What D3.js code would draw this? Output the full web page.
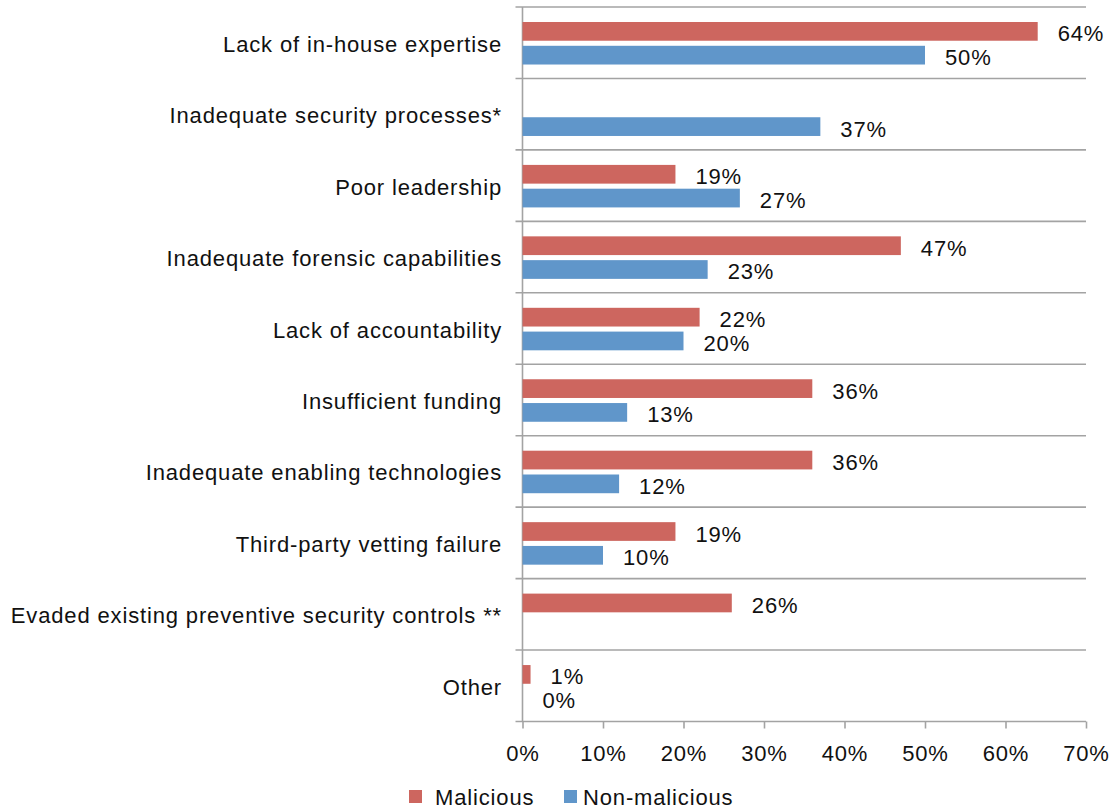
<!DOCTYPE html>
<html>
<head>
<meta charset="utf-8">
<script src="https://cdn.jsdelivr.net/npm/d3@7"></script>
<style>
  html, body { margin: 0; padding: 0; background: #ffffff; }
  svg text { font-family: Arial, "Liberation Sans", sans-serif; fill: #111; letter-spacing: 0.85px; }
</style>
</head>
<body>
<svg id="chart" width="1110" height="810"></svg>
<script>
// Reasons cited for insider incidents, by type (percent of respondents)
const categories = [
  "Lack of in-house expertise",
  "Inadequate security processes*",
  "Poor leadership",
  "Inadequate forensic capabilities",
  "Lack of accountability",
  "Insufficient funding",
  "Inadequate enabling technologies",
  "Third-party vetting failure",
  "Evaded existing preventive security controls **",
  "Other"
];
const seriesNames = ["Malicious", "Non-malicious"];
const malicious    = [64, null, 19, 47, 22, 36, 36, 19, 26, 1];
const nonMalicious = [50, 37, 27, 23, 20, 13, 12, 10, null, 0];
const xTicks = [0, 10, 20, 30, 40, 50, 60, 70];

const colors = { "Malicious": "#CD665F", "Non-malicious": "#6096CA" };
const gridColor = "#A3A3A3";

const svg = d3.select("#chart");

const plot = { left: 522.5, right: 1086, top: 7, bottom: 721.5 };

const x = d3.scaleLinear().domain([0, 70]).range([plot.left, plot.right]);
const y = d3.scaleBand().domain(categories).range([plot.top, plot.bottom]).padding(0);
const rowH = y.bandwidth();
const ySeries = d3.scaleBand().domain(seriesNames)
  .range([rowH * 0.21, rowH * 0.805])
  .paddingInner(0.213).paddingOuter(0);

// horizontal row separators (with small left ticks)
const boundaries = categories.map(c => y(c)).concat([plot.bottom]);
svg.append("g").selectAll("line")
  .data(boundaries)
  .join("line")
  .attr("x1", plot.left - 7)
  .attr("x2", plot.right)
  .attr("y1", d => d)
  .attr("y2", d => d)
  .attr("stroke", gridColor)
  .attr("stroke-width", 1.6);

// vertical axis line
svg.append("line")
  .attr("x1", plot.left).attr("x2", plot.left)
  .attr("y1", plot.top).attr("y2", plot.bottom)
  .attr("stroke", gridColor).attr("stroke-width", 1.6);

// bottom axis
const xAxis = d3.axisBottom(x)
  .tickValues(xTicks)
  .tickSize(7)
  .tickPadding(16)
  .tickFormat(d => d + "%");
const gx = svg.append("g")
  .attr("transform", `translate(0,${plot.bottom})`)
  .call(xAxis);
gx.select(".domain").remove();
gx.selectAll(".tick line").attr("stroke", gridColor).attr("stroke-width", 1.6);
gx.selectAll(".tick text")
  .attr("font-size", 22)
  .attr("font-family", "Arial, 'Liberation Sans', sans-serif")
  .attr("fill", "#111")
  .attr("dy", null)
  .attr("y", 39.5);

// category labels
svg.append("g").selectAll("text")
  .data(categories)
  .join("text")
  .attr("x", 502)
  .attr("y", d => y(d) + rowH / 2 + 9)
  .attr("text-anchor", "end")
  .attr("font-size", 22)
  .text(d => d);

// bars
const rows = categories.map((c, i) => ({
  category: c,
  values: [
    { series: "Malicious", value: malicious[i] },
    { series: "Non-malicious", value: nonMalicious[i] }
  ].filter(v => v.value !== null)
}));

const groups = svg.append("g").selectAll("g")
  .data(rows)
  .join("g")
  .attr("transform", d => `translate(0,${y(d.category)})`);

groups.selectAll("rect")
  .data(d => d.values)
  .join("rect")
  .attr("x", x(0))
  .attr("y", d => ySeries(d.series))
  .attr("width", d => x(d.value) - x(0))
  .attr("height", ySeries.bandwidth())
  .attr("fill", d => colors[d.series]);

groups.selectAll("text")
  .data(d => d.values)
  .join("text")
  .attr("x", d => x(d.value) + 20)
  .attr("y", d => ySeries(d.series) + ySeries.bandwidth() / 2 + 10)
  .attr("font-size", 22)
  .text(d => d.value + "%");

// legend
const legendItems = [
  { name: "Malicious", sx: 409, tx: 435 },
  { name: "Non-malicious", sx: 564, tx: 583 }
];
const lg = svg.append("g");
lg.selectAll("rect")
  .data(legendItems)
  .join("rect")
  .attr("x", d => d.sx).attr("y", 790)
  .attr("width", 13).attr("height", 13)
  .attr("fill", d => colors[d.name]);
lg.selectAll("text")
  .data(legendItems)
  .join("text")
  .attr("x", d => d.tx).attr("y", 805)
  .attr("font-size", 22)
  .text(d => d.name);
</script>
</body>
</html>
